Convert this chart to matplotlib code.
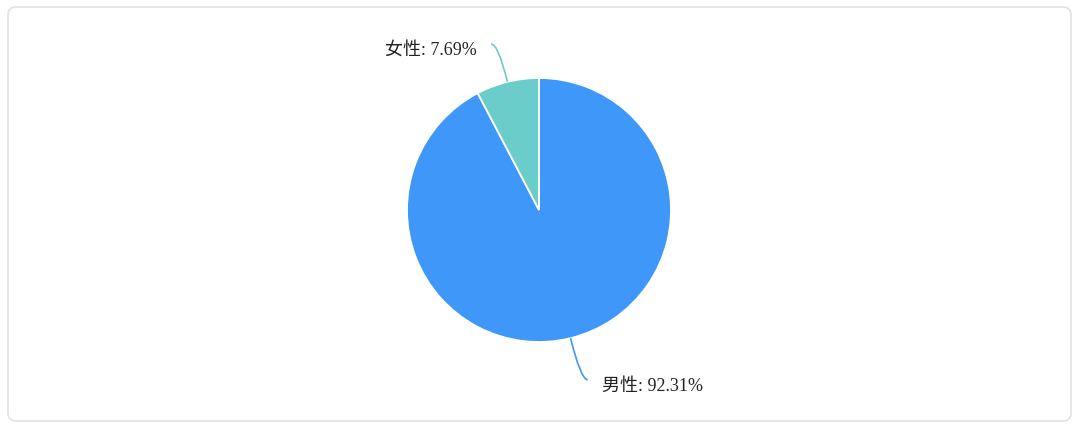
import matplotlib
matplotlib.use('Agg')
import matplotlib.pyplot as plt
from matplotlib.patches import FancyBboxPatch, PathPatch
from matplotlib.path import Path
import numpy as np

labels = ['男性', '女性']
shares = [92.31, 7.69]
colors = ['#3f97f9', '#6bcdc9']

W, H = 1080, 432
fig = plt.figure(figsize=(W / 100, H / 100), dpi=100)
ax = fig.add_axes([0, 0, 1, 1])

# card background
card = FancyBboxPatch((8, 11), 1063, 414, boxstyle='round,pad=0,rounding_size=8',
                      facecolor='white', edgecolor='#e2e2e2', linewidth=1.2)
ax.add_patch(card)

cx, cy, r = 539, H - 210, 132
wedges, _ = ax.pie(shares, colors=colors, startangle=90, counterclock=False,
                   center=(cx, cy), radius=r,
                   wedgeprops=dict(edgecolor='white', linewidth=1.3))

fonts = ['Liberation Serif', 'Noto Sans CJK SC']
for w, lab, val, col in zip(wedges, labels, shares, colors):
    ang = np.deg2rad((w.theta1 + w.theta2) / 2)
    dx, dy = np.cos(ang), np.sin(ang)
    side = 1 if dx >= 0 else -1
    ext = 42 if dy < 0 else 39
    p0 = (cx + r * dx, cy + r * dy)
    p1 = (cx + ext * dx + r * dx, cy + (r + ext) * dy)
    p2 = (p1[0] + 7 * side, p1[1] + (-1 if dy < 0 else 0))
    path = Path([p0, p1, p2], [Path.MOVETO, Path.CURVE3, Path.CURVE3])
    ax.add_patch(PathPatch(path, facecolor='none', edgecolor=col, linewidth=1.2))
    ax.text(p2[0] + 14 * side, p2[1] - 6, '%s: %.2f%%' % (lab, val),
            ha='left' if side > 0 else 'right', va='center',
            fontsize=13, color='#222222', family=fonts)

ax.set_xlim(0, W)
ax.set_ylim(0, H)
ax.set_aspect('auto')
ax.axis('off')

fig.savefig('out.png', dpi=100)
